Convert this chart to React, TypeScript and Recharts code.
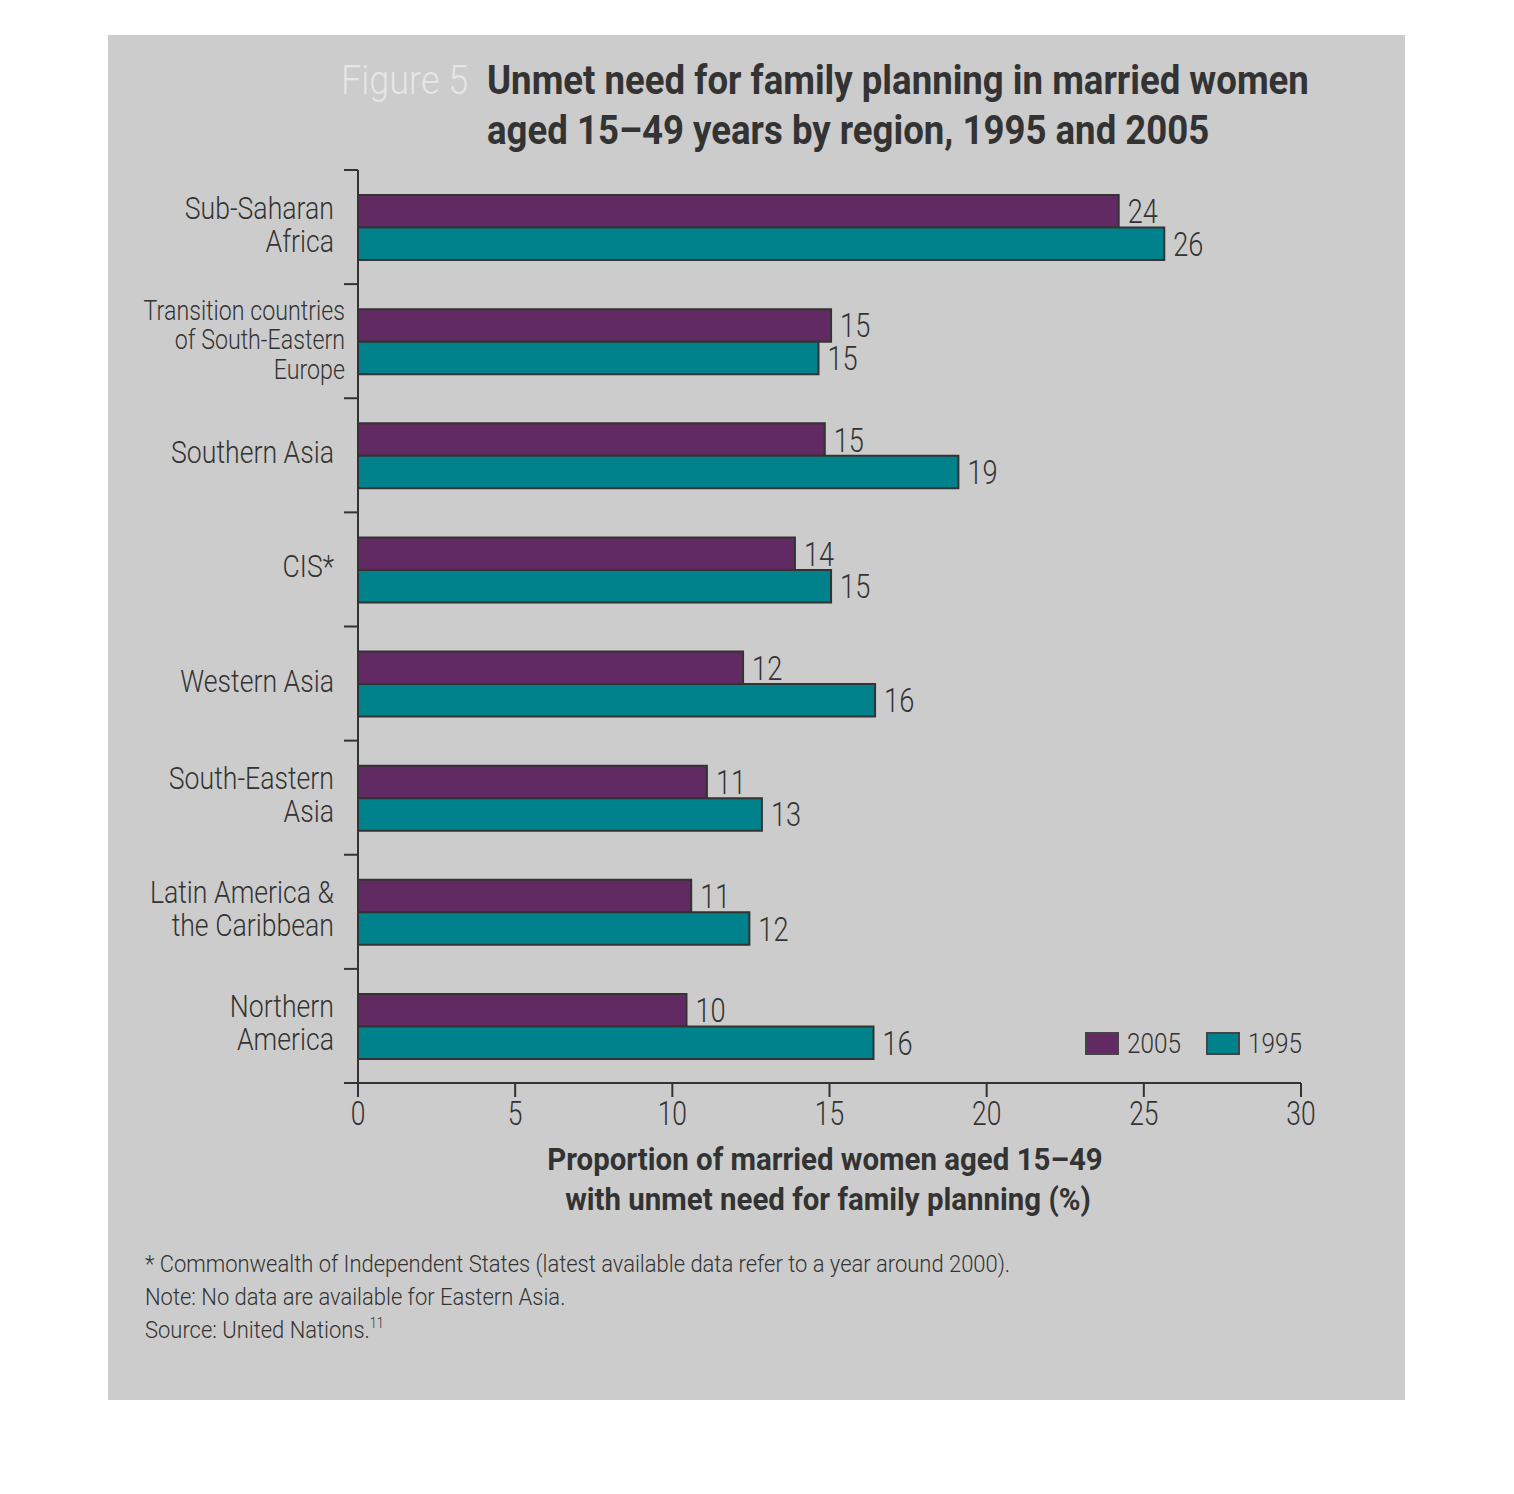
import React from 'react';
import { BarChart, Bar, XAxis, YAxis, LabelList, Legend } from 'recharts';

// ---- data ----
const regions = [
  'Sub-Saharan\nAfrica',
  'Transition countries\nof South-Eastern\nEurope',
  'Southern Asia',
  'CIS*',
  'Western Asia',
  'South-Eastern\nAsia',
  'Latin America &\nthe Caribbean',
  'Northern\nAmerica',
];
const values2005 = [24.2, 15.05, 14.85, 13.9, 12.25, 11.1, 10.6, 10.45];
const values1995 = [25.65, 14.65, 19.1, 15.05, 16.45, 12.85, 12.45, 16.4];
const labels2005 = ['24', '15', '15', '14', '12', '11', '11', '10'];
const labels1995 = ['26', '15', '19', '15', '16', '13', '12', '16'];
const xTicks = [0, 5, 10, 15, 20, 25, 30];
const seriesNames = ['2005', '1995'];

const titleLead = 'Figure 5';
const titleLines = [
  'Unmet need for family planning in married women',
  'aged 15\u201349 years by region, 1995 and 2005',
];
const xTitleLines = [
  'Proportion of married women aged 15\u201349',
  'with unmet need for family planning (%)',
];
const notes = [
  '* Commonwealth of Independent States (latest available data refer to a year around 2000).',
  'Note: No data are available for Eastern Asia.',
  'Source: United Nations.',
];

const data = regions.map((r, i) => ({
  region: r,
  v2005: values2005[i],
  v1995: values1995[i],
  l2005: labels2005[i],
  l1995: labels1995[i],
}));

// ---- styles ----
const FONT = "Roboto, 'Liberation Sans', sans-serif";
const INK = '#333333';
const PURPLE = '#612a62';
const TEAL = '#00828c';
const colors = [PURPLE, TEAL];

const NText = ({ x, y, anchor = 'start', size, weight = 300, fill = INK, sx = 0.84, children }: any) => (
  <text
    transform={`translate(${x},${y}) scale(${sx},1)`}
    x={0}
    y={0}
    textAnchor={anchor}
    fontSize={size}
    fontWeight={weight}
    fontFamily={FONT}
    fill={fill}
  >
    {children}
  </text>
);

const CategoryTick = (props: any) => {
  const { x, y, payload, index, visibleTicksCount } = props;
  const half = payload && typeof payload.offset === 'number' && payload.offset > 0
    ? payload.offset
    : (props.height || 913) / (visibleTicksCount || 8) / 2;
  const axisX = x + 24;
  const lines = String(payload.value).split('\n');
  const n = lines.length;
  const fs = n >= 3 ? 27 : 31;
  const lh = n >= 3 ? 29.5 : 33;
  const shiftX = n >= 3 ? 11 : 0;
  const isLast = index === (visibleTicksCount || 8) - 1;
  return (
    <g>
      <line x1={axisX - 14} x2={axisX} y1={y - half} y2={y - half} stroke={INK} strokeWidth={2} />
      {isLast && (
        <line x1={axisX - 14} x2={axisX} y1={y + half} y2={y + half} stroke={INK} strokeWidth={2} />
      )}
      {lines.map((l, i) => (
        <NText key={i} x={x + shiftX} y={y + 8 + (i - (n - 1) / 2) * lh} anchor="end" size={fs} sx={0.86}>
          {l}
        </NText>
      ))}
    </g>
  );
};

const XTick = (props: any) => {
  const { x, y, payload } = props;
  return (
    <NText x={x} y={y + 24} anchor="middle" size={33} sx={0.8}>
      {payload.value}
    </NText>
  );
};

const makeValueLabel = (props: any) => {
  const { x, y, width, height, value } = props;
  return (
    <NText x={Number(x) + Number(width) + 9} y={Number(y) + Number(height) / 2 + 12} size={34} sx={0.8}>
      {value}
    </NText>
  );
};

const LegendContent = () => (
  <svg width={240} height={36} style={{ display: 'block', overflow: 'visible' }}>
    {seriesNames.map((s, i) => (
      <g key={s} transform={`translate(${i * 121},0)`}>
        <rect x={1} y={3} width={32} height={21} fill={colors[i]} stroke="#444" strokeWidth={2} />
        <NText x={42} y={23} size={27} sx={0.9}>{s}</NText>
      </g>
    ))}
  </svg>
);

export default function App() {
  return (
    <div style={{ position: 'absolute', left: 0, top: 0, width: 1514, height: 1494, background: '#ffffff', fontFamily: FONT }}>
      <div style={{ position: 'absolute', left: 108, top: 35, width: 1297, height: 1365, background: '#cccccc' }} />
      <div style={{ position: 'absolute', left: 0, top: 0 }}>
        <BarChart
          width={1514}
          height={1494}
          data={data}
          layout="vertical"
          margin={{ top: 170, right: 213, bottom: 351, left: 0 }}
          barGap={0}
          style={{ fontFamily: FONT }}
        >
          <XAxis
            type="number"
            domain={[0, 30]}
            ticks={xTicks}
            interval={0}
            height={60}
            tickSize={14}
            tickMargin={4}
            axisLine={{ stroke: INK, strokeWidth: 2 }}
            tickLine={{ stroke: INK, strokeWidth: 2 }}
            tick={<XTick />}
          />
          <YAxis
            type="category"
            dataKey="region"
            width={358}
            tickSize={14}
            tickMargin={10}
            interval={0}
            axisLine={{ stroke: INK, strokeWidth: 2 }}
            tickLine={false}
            tick={<CategoryTick />}
          />
          <Legend
            layout="horizontal"
            verticalAlign="middle"
            align="center"
            content={<LegendContent />}
            wrapperStyle={{ position: 'absolute', left: 1085, top: 1030, width: 240, height: 36 }}
          />
          <Bar dataKey="v2005" name={seriesNames[0]} fill={PURPLE} stroke={INK} strokeWidth={2} barSize={32.5} isAnimationActive={false}>
            <LabelList dataKey="l2005" content={makeValueLabel} />
          </Bar>
          <Bar dataKey="v1995" name={seriesNames[1]} fill={TEAL} stroke={INK} strokeWidth={2} barSize={32.5} isAnimationActive={false}>
            <LabelList dataKey="l1995" content={makeValueLabel} />
          </Bar>
        </BarChart>
      </div>
      <svg width={1514} height={1494} style={{ position: 'absolute', left: 0, top: 0, pointerEvents: 'none' }}>
        <NText x={341} y={94} size={40} weight={300} fill="#e6e6e6" sx={0.9}>{titleLead}</NText>
        <NText x={487} y={94} size={40} weight={700} sx={0.915}>{titleLines[0]}</NText>
        <NText x={487} y={144} size={40} weight={700} sx={0.915}>{titleLines[1]}</NText>
        <NText x={825} y={1170} anchor="middle" size={31} weight={700} sx={0.95}>{xTitleLines[0]}</NText>
        <NText x={828} y={1210} anchor="middle" size={31} weight={700} sx={0.95}>{xTitleLines[1]}</NText>
        <NText x={145} y={1272} size={24} sx={0.915}>{notes[0]}</NText>
        <NText x={145} y={1305} size={24} sx={0.915}>{notes[1]}</NText>
        <NText x={145} y={1338} size={24} sx={0.915}>
          {notes[2]}
          <tspan fontSize={14} dy={-10}>11</tspan>
        </NText>
      </svg>
    </div>
  );
}
